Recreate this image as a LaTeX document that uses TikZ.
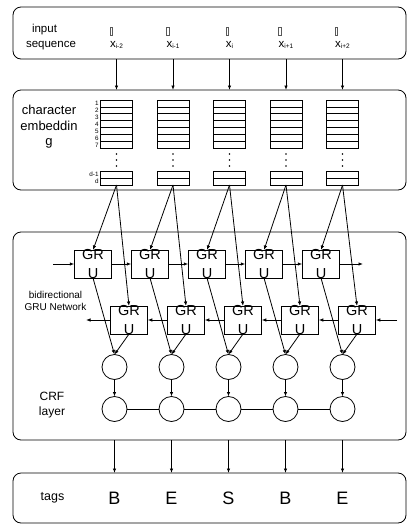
\documentclass[tikz,border=0pt]{standalone}
\usepackage{fontspec}
\setmainfont{Liberation Sans}
\usetikzlibrary{arrows.meta}
\begin{document}
\begin{tikzpicture}[x=1pt,y=-1pt,line width=0.8pt,
  panel/.style={draw,rounded corners=8pt,minimum width=393pt,inner sep=0,outer sep=0},
  arr/.style={-{Latex[length=4.5pt,width=3.5pt]}},
  cell/.style={draw,minimum width=32pt,minimum height=6.9pt,inner sep=0,outer sep=0},
  gru/.style={draw,minimum width=37.5pt,minimum height=28pt,inner sep=0,outer sep=0,
    label={[font=\fontsize{14.5}{19.5}\selectfont,align=center,inner sep=0]center:GR\\U}},
  crf/.style={draw,circle,minimum size=25pt,inner sep=0,outer sep=0},
  tofu/.style={draw=black!65,line width=0.6pt,minimum width=2.6pt,minimum height=8pt,inner sep=0},
  lbl/.style={align=center,inner sep=0},
  num/.style={font=\fontsize{6.3}{6.5}\selectfont,inner sep=0,anchor=east}
]
\useasboundingbox (0,0) rectangle (413,528);
% panels
\node[panel,minimum height=52pt]  (p1) at (209.5,33) {};
\node[panel,minimum height=100pt] (p2) at (209.5,140) {};
\node[panel,minimum height=208pt] (p3) at (209.5,336) {};
\node[panel,minimum height=50pt]  (p4) at (209.5,498) {};
% panel labels
\node[lbl,font=\fontsize{11.5}{15.7}\selectfont] (tin) at (51,37) {input\hspace*{13pt}\\sequence};
\node[lbl,font=\fontsize{13}{15.5}\selectfont] (tch) at (49,127) {character\\embeddin\\g};
\node[lbl,font=\fontsize{10}{11.5}\selectfont] (tgru) at (55.5,301) {bidirectional\\GRU Network};
\node[lbl,font=\fontsize{12}{15.5}\selectfont] (tcrf) at (52,405) {CRF\\layer};
\node[lbl,font=\fontsize{12.5}{15}\selectfont] (ttag) at (52.5,498) {tags};
% input labels
\foreach \k/\s in {0/i-2,1/i-1,2/i,3/i+1,4/i+2}{
  \pgfmathsetmacro{\cx}{116.5+56.5*\k}
  \node[inner sep=0,font=\fontsize{11.5}{12}\selectfont] (x\k) at (\cx,45) {x\raisebox{-1.6pt}{\fontsize{6.5}{7}\selectfont\s}};
  \node[tofu,anchor=west] (q\k) at (x\k.west |- 0,31.5) {};
}
% embedding columns
\foreach \k in {0,...,4}{
  \pgfmathsetmacro{\cx}{116.5+56.5*\k}
  \foreach \j in {1,...,7}{
    \node[cell] (e\k-\j) at (\cx,{100+6.9*(\j-0.5)}) {};
  }
  \node[cell,minimum height=7pt] (f\k-1) at (\cx,174.5) {};
  \node[cell,minimum height=7pt] (f\k-2) at (\cx,181.5) {};
  \foreach \yy in {154,160,166}{\fill (\cx,\yy) circle (0.9pt);}
  \draw[arr] (p1.south -| e\k-1) -- (p2.north -| e\k-1);
}
\foreach \j in {1,...,7}{\node[num] at ([xshift=-1.5pt]e0-\j.west) {\j};}
\node[num] at ([xshift=-1.5pt]f0-1.west) {d-1};
\node[num] at ([xshift=-1.5pt]f0-2.west) {d};
% GRU and CRF
\foreach \k in {0,...,4}{
  \node[gru] (u\k) at ({93+57*\k},264) {};
  \node[gru] (l\k) at ({129+57*\k},320) {};
  \node[crf] (r\k) at ({114.5+57*\k},367) {};
  \node[crf] (s\k) at ({114.5+57*\k},409) {};
}
\foreach \k/\c in {0/B,1/E,2/S,3/B,4/E}{
  \node[font=\fontsize{18}{18}\selectfont,inner sep=0] (t\k) at ({114.5+57*\k},498) {\c};
}
\foreach \k in {0,...,4}{
  \draw[arr] (f\k-2.south) -- (u\k.north);
  \draw[arr] (f\k-2.south) -- (l\k.north);
  \draw[arr] (u\k.south) -- (r\k.north);
  \draw[arr] (l\k.south) -- (r\k.north);
  \draw[arr] (r\k) -- (s\k);
  \draw[arr] (p3.south -| s\k) -- (p4.north -| s\k);
}
\foreach \k [evaluate=\k as \n using int(\k+1)] in {0,...,3}{
  \draw[arr] (u\k.east) -- (u\n.west);
  \draw[arr] (l\n.west) -- (l\k.east);
  \draw (s\k) -- (s\n);
}
\coordinate (ua) at (53,264);
\coordinate (ub) at (363,264);
\coordinate (la) at (397,320);
\coordinate (lb) at (86,320);
\draw[arr] (ua) -- (u0.west);
\draw[arr] (u4.east) -- (ub);
\draw[arr] (la) -- (l4.east);
\draw[arr] (l0.west) -- (lb);
\end{tikzpicture}
\end{document}
